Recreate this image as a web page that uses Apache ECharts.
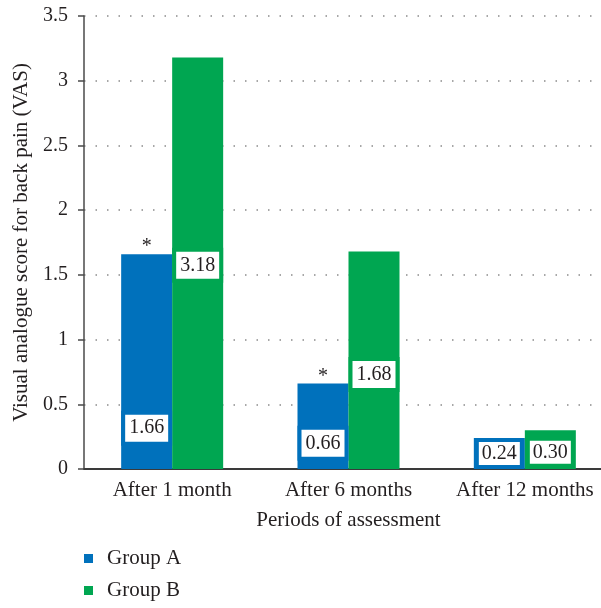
<!DOCTYPE html>
<html>
<head>
<meta charset="utf-8">
<script src="https://cdn.jsdelivr.net/npm/echarts@6/dist/echarts.min.js"></script>
<style>
  html, body { margin: 0; padding: 0; background: #fff; overflow: hidden; }
  /* plot area runs past the right edge of the figure, as in the original crop */
  #main { width: 613px; height: 608px; }
</style>
</head>
<body>
<div id="main"></div>
<script>
var categories = ['After 1 month', 'After 6 months', 'After 12 months'];
var groupA = [1.66, 0.66, 0.24];
var groupB = [3.18, 1.68, 0.30];
var starred = [true, true, false]; // significant difference marks on group A
var yTicks = [0, 0.5, 1, 1.5, 2, 2.5, 3, 3.5];

// where the value box sits inside each bar (fraction of the bar height, from top)
var labelPosA = ['81%', '70%', '50%'];
var labelPosB = ['50.5%', '56.5%', '57%'];

var blue = '#0071bc';
var green = '#00a651';
var font = 'Liberation Serif';
var ink = '#231f20';

function buildData(values, pos) {
    return values.map(function (v, i) {
        var small = v < 0.5;
        return {
            value: v,
            label: {
                position: ['50%', pos[i]],
                padding: small ? [2, 3, 1, 3] : [4, 4, 3, 4]
            }
        };
    });
}

function labelStyle(color) {
    return {
        show: true,
        align: 'center',
        verticalAlign: 'middle',
        fontFamily: font,
        fontSize: 20,
        lineHeight: 20,
        color: ink,
        backgroundColor: '#fff',
        borderColor: color,
        borderWidth: 4,
        formatter: function (p) { return p.value.toFixed(2); }
    };
}

var stars = [];
starred.forEach(function (s, i) {
    if (s) {
        stars.push({ coord: [i, groupA[i]], value: groupA[i] });
    }
});

var chart = echarts.init(document.getElementById('main'), null, { renderer: 'canvas' });

chart.setOption({
    animation: false,
    backgroundColor: '#fff',
    textStyle: { fontFamily: font },
    grid: { left: 84, right: 0, top: 16, bottom: 139, containLabel: false },
    legend: {
        orient: 'vertical',
        left: 84,
        top: 548,
        height: 60,
        padding: 0,
        icon: 'rect',
        itemWidth: 9,
        itemHeight: 9,
        itemGap: 11,
        textStyle: { fontFamily: font, fontSize: 21, color: ink, padding: [0, 0, 0, 9] },
        data: ['Group A', 'Group B']
    },
    xAxis: {
        type: 'category',
        data: categories,
        name: 'Periods of assessment',
        nameLocation: 'middle',
        nameGap: 41,
        nameTextStyle: { fontFamily: font, fontSize: 21, color: ink },
        axisLine: { lineStyle: { color: '#3a3a3a', width: 2 } },
        axisTick: { show: false },
        axisLabel: { interval: 0, fontFamily: font, fontSize: 21, color: ink, margin: 11 }
    },
    yAxis: {
        type: 'value',
        min: 0,
        max: 3.5,
        interval: 0.5,
        name: 'Visual analogue score for back pain (VAS)',
        nameLocation: 'middle',
        nameGap: 47,
        nameTextStyle: { fontFamily: font, fontSize: 21, color: ink },
        axisLine: { show: true, lineStyle: { color: '#4a4a4a', width: 1.5 } },
        axisTick: { show: true, length: 6, lineStyle: { color: '#4a4a4a', width: 1.5 } },
        axisLabel: {
            fontFamily: font, fontSize: 20, color: ink, margin: 16,
            formatter: function (v) { return yTicks.indexOf(v) >= 0 ? String(v) : ''; }
        },
        splitLine: { lineStyle: { color: '#8a8a8a', type: [1.5, 10], width: 1.5 } }
    },
    series: [
        {
            name: 'Group A',
            type: 'bar',
            barWidth: 51,
            barGap: 0,
            itemStyle: { color: blue },
            label: labelStyle(blue),
            data: buildData(groupA, labelPosA),
            markPoint: {
                symbol: 'circle',
                symbolSize: 0,
                label: {
                    show: true,
                    position: 'top',
                    distance: -3,
                    formatter: '*',
                    fontFamily: font,
                    fontSize: 20,
                    color: ink
                },
                data: stars
            }
        },
        {
            name: 'Group B',
            type: 'bar',
            barWidth: 51,
            barGap: 0,
            itemStyle: { color: green },
            label: labelStyle(green),
            data: buildData(groupB, labelPosB)
        }
    ]
});
</script>
</body>
</html>
